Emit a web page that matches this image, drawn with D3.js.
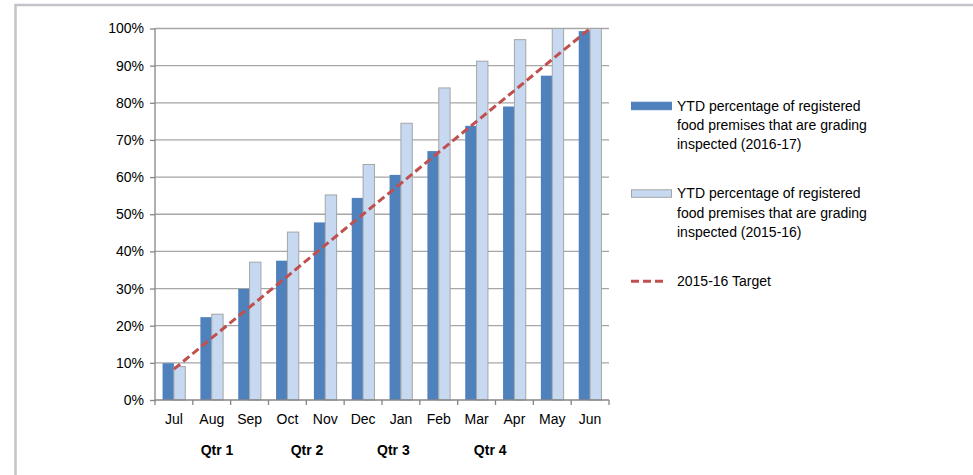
<!DOCTYPE html>
<html>
<head>
<meta charset="utf-8">
<script src="https://cdn.jsdelivr.net/npm/d3@7"></script>
<style>
  body { margin: 0; background: #fff; }
  text { font-family: "Liberation Sans", Arial, sans-serif; fill: #000; }
</style>
</head>
<body>
<div id="chart"></div>
<script>
const months = ['Jul', 'Aug', 'Sep', 'Oct', 'Nov', 'Dec', 'Jan', 'Feb', 'Mar', 'Apr', 'May', 'Jun']
const ytd1617 = [0.099, 0.223, 0.299, 0.375, 0.478, 0.544, 0.606, 0.670, 0.738, 0.790, 0.873, 0.993]
const ytd1516 = [0.090, 0.231, 0.371, 0.452, 0.552, 0.634, 0.745, 0.840, 0.912, 0.970, 1.000, 1.000]
const target = [0.083, 0.167, 0.25, 0.333, 0.417, 0.5, 0.583, 0.667, 0.75, 0.833, 0.917, 1.0]
const quarters = ['Qtr 1', 'Qtr 2', 'Qtr 3', 'Qtr 4']
const yTicks = [0, 0.1, 0.2, 0.3, 0.4, 0.5, 0.6, 0.7, 0.8, 0.9, 1.0]
const legendLabels = [
    ['YTD percentage of registered', 'food premises that are grading', 'inspected (2016-17)'],
    ['YTD percentage of registered', 'food premises that are grading', 'inspected (2015-16)'],
    ['2015-16 Target']
]

const W = 973, H = 475
const margin = {top: 28.5, left: 155, right: 364, bottom: 75}
const width = W - margin.left - margin.right
const height = H - margin.top - margin.bottom
const fontSize = '14px'

const svg = d3.select('#chart')
    .append('svg')
    .attr('width', W)
    .attr('height', H)

// outer frame (only top and left edges visible)
svg.append('rect')
    .attr('x', 15.5).attr('y', 5)
    .attr('width', W + 20).attr('height', H + 20)
    .attr('fill', 'none')
    .attr('stroke', '#c3c3c9')
    .attr('stroke-width', 2.5)

const g = svg.append('g')
    .attr('transform', `translate(${margin.left}, ${margin.top})`)

const x = d3.scaleBand()
    .domain(months)
    .range([0, width])

const y = d3.scaleLinear()
    .domain([0, 1])
    .range([height, 0])

// gridlines
g.append('g')
    .selectAll('line')
    .data(yTicks.slice(1))
    .enter()
    .append('line')
    .attr('x1', 0)
    .attr('x2', width)
    .attr('y1', d => y(d))
    .attr('y2', d => y(d))
    .attr('stroke', '#a6a6a6')
    .attr('stroke-width', 1.3)

// bars
const barW = x.bandwidth() * 0.3
const pad = (x.bandwidth() - 2 * barW) / 2

g.append('g')
    .selectAll('rect')
    .data(ytd1617)
    .enter()
    .append('rect')
    .attr('x', (d, i) => x(months[i]) + pad)
    .attr('y', d => y(d))
    .attr('width', barW)
    .attr('height', d => height - y(d))
    .attr('fill', '#4f81bd')

g.append('g')
    .selectAll('rect')
    .data(ytd1516)
    .enter()
    .append('rect')
    .attr('x', (d, i) => x(months[i]) + pad + barW)
    .attr('y', d => y(d))
    .attr('width', barW)
    .attr('height', d => height - y(d))
    .attr('fill', '#c6d9f1')
    .attr('stroke', '#a5a5a5')
    .attr('stroke-width', 1)

// target line
const line = d3.line()
    .x((d, i) => x(months[i]) + x.bandwidth() / 2)
    .y(d => y(d))

g.append('path')
    .datum(target)
    .attr('d', line)
    .attr('fill', 'none')
    .attr('stroke', '#c0504d')
    .attr('stroke-width', 3)
    .attr('stroke-dasharray', '8,4')

// axes
const yAxis = d3.axisLeft(y)
    .tickValues(yTicks)
    .tickFormat(d3.format('.0%'))
    .tickSize(5)
    .tickPadding(6)
const yG = g.append('g').call(yAxis)
yG.select('.domain').attr('stroke', '#868686').attr('stroke-width', 1.3).attr('d', `M0,${height}V0`)
yG.selectAll('.tick line').attr('stroke', '#868686').attr('stroke-width', 1.3)
yG.selectAll('.tick text').style('font-size', fontSize)

const xAxis = d3.axisBottom(x)
    .tickSize(0)
    .tickPadding(14)
const xG = g.append('g')
    .attr('transform', `translate(0, ${height})`)
    .call(xAxis)
xG.select('.domain').attr('stroke', '#868686').attr('stroke-width', 1.3).attr('d', `M0,0H${width}`)
xG.selectAll('.tick text').style('font-size', fontSize)

// category boundary ticks
xG.selectAll('.bound')
    .data(months.concat(['end']))
    .enter()
    .append('line')
    .attr('x1', (d, i) => i < months.length ? x(d) : width)
    .attr('x2', (d, i) => i < months.length ? x(d) : width)
    .attr('y1', 0)
    .attr('y2', 5)
    .attr('stroke', '#868686')
    .attr('stroke-width', 1.3)

// quarter labels
const qtrAt = [1.64, 4.02, 6.3, 8.86]
g.append('g')
    .selectAll('text')
    .data(quarters)
    .enter()
    .append('text')
    .attr('x', (d, i) => qtrAt[i] * x.step())
    .attr('y', height + 50)
    .attr('dy', '0.35em')
    .attr('text-anchor', 'middle')
    .style('font-size', fontSize)
    .style('font-weight', 'bold')
    .text(d => d)

// legend
const legend = svg.append('g')
const legendY = [105.7, 193.3, 281.3]

legendLabels.forEach((lines, i) => {
    const ly = legendY[i]
    if (i < 2) {
        legend.append('rect')
            .attr('x', 631.5)
            .attr('y', ly - 3.5)
            .attr('width', 40)
            .attr('height', 7.5)
            .attr('fill', i === 0 ? '#4f81bd' : '#c6d9f1')
            .attr('stroke', i === 0 ? '#4f81bd' : '#a5a5a5')
            .attr('stroke-width', 1)
    } else {
        legend.append('line')
            .attr('x1', 631).attr('x2', 667)
            .attr('y1', ly).attr('y2', ly)
            .attr('stroke', '#c0504d')
            .attr('stroke-width', 3)
            .attr('stroke-dasharray', '8,4')
    }
    lines.forEach((t, j) => {
        legend.append('text')
            .attr('x', 677)
            .attr('y', ly + j * 19.3)
            .attr('dy', '0.35em')
            .style('font-size', fontSize)
            .text(t)
    })
})
</script>
</body>
</html>
